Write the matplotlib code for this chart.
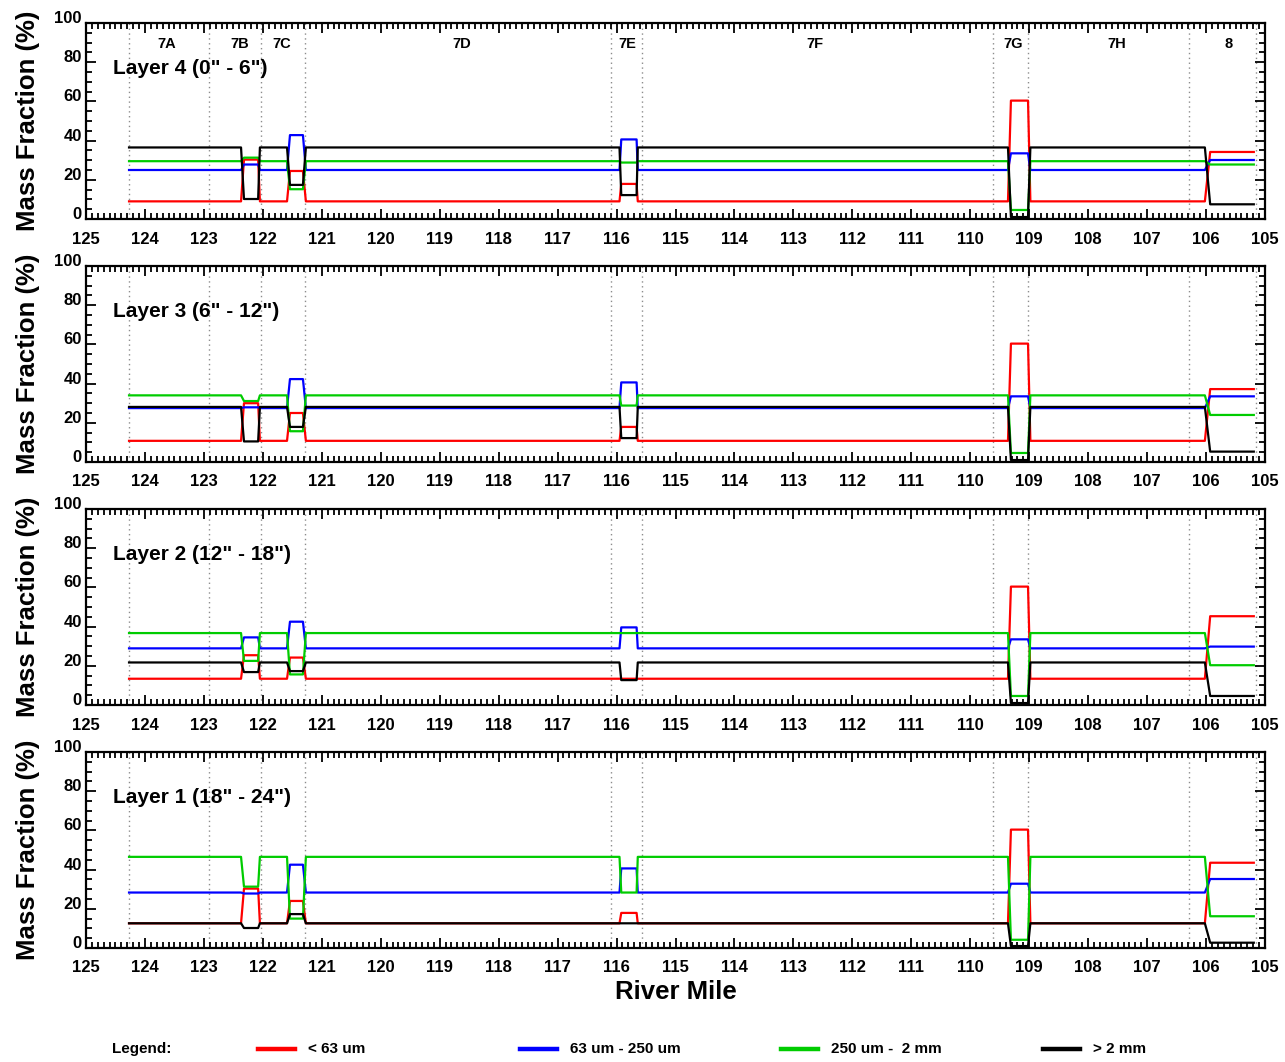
import matplotlib
matplotlib.use('Agg')
import matplotlib.pyplot as plt
import matplotlib.transforms as mtransforms
from matplotlib.lines import Line2D
from matplotlib.ticker import MultipleLocator

plt.rcParams['font.family'] = ['Liberation Sans', 'DejaVu Sans']
plt.rcParams['font.weight'] = 'bold'

# reach boundaries and labels (river mile)
reach_bounds = [124.27, 122.92, 122.03, 121.29, 116.10, 115.56, 109.61, 109.02, 106.29, 105.15]
reach_names = ['7A', '7B', '7C', '7D', '7E', '7F', '7G', '7H', '8']
reach_label_mile = [123.63, 122.39, 121.68, 118.63, 115.81, 112.63, 109.27, 107.51, 105.61]

# start / end mile of each constant-value stretch along the river
seg_start = [124.27, 122.32, 122.05, 121.54, 121.27, 115.92, 115.64, 109.31, 108.98, 105.93]
seg_end = [122.37, 122.08, 121.59, 121.32, 115.95, 115.66, 109.36, 109.02, 106.02, 105.19]

# mass fraction (%) per stretch, layer 4 (0" - 6")
l4_fines = [9.0, 30.3, 9.0, 24.5, 9.0, 17.9, 9.0, 60.4, 9.0, 34.2]
l4_fsand = [25.0, 27.8, 25.0, 42.8, 25.0, 40.6, 25.0, 33.5, 25.0, 30.1]
l4_csand = [29.5, 31.3, 29.5, 15.2, 29.5, 28.8, 29.5, 4.6, 29.5, 27.8]
l4_gravel = [36.5, 10.2, 36.5, 17.4, 36.5, 12.2, 36.5, 1.0, 36.5, 7.5]

# layer 3 (6" - 12")
l3_fines = [10.8, 30.0, 10.8, 25.0, 10.8, 17.9, 10.8, 60.4, 10.8, 37.2]
l3_fsand = [27.5, 27.9, 27.5, 42.3, 27.5, 40.6, 27.5, 33.5, 27.5, 33.5]
l3_csand = [34.0, 31.1, 34.0, 15.7, 34.0, 28.8, 34.0, 4.6, 34.0, 24.0]
l3_gravel = [28.1, 10.5, 28.1, 17.9, 28.1, 12.2, 28.1, 1.0, 28.1, 5.3]

# layer 2 (12" - 18")
l2_fines = [13.4, 25.4, 13.4, 24.2, 13.4, 13.4, 13.4, 60.4, 13.4, 45.3]
l2_fsand = [28.9, 34.5, 28.9, 42.5, 28.9, 39.6, 28.9, 33.5, 28.9, 29.8]
l2_csand = [36.7, 22.5, 36.7, 15.6, 36.7, 36.7, 36.7, 4.6, 36.7, 20.3]
l2_gravel = [21.7, 16.8, 21.7, 17.3, 21.7, 12.7, 21.7, 1.0, 21.7, 4.6]

# layer 1 (18" - 24")
l1_fines = [12.6, 30.3, 12.6, 24.0, 12.6, 17.9, 12.6, 60.4, 12.6, 43.5]
l1_fsand = [28.3, 27.8, 28.3, 42.5, 28.3, 40.6, 28.3, 32.8, 28.3, 35.2]
l1_csand = [46.5, 31.3, 46.5, 15.0, 46.5, 28.3, 46.5, 4.2, 46.5, 16.2]
l1_gravel = [12.6, 10.2, 12.6, 17.3, 12.6, 12.6, 12.6, 1.0, 12.6, 2.7]

layer_titles = ['Layer 4 (0" - 6")', 'Layer 3 (6" - 12")',
                'Layer 2 (12" - 18")', 'Layer 1 (18" - 24")']
layer_data = [
    [l4_fines, l4_fsand, l4_csand, l4_gravel],
    [l3_fines, l3_fsand, l3_csand, l3_gravel],
    [l2_fines, l2_fsand, l2_csand, l2_gravel],
    [l1_fines, l1_fsand, l1_csand, l1_gravel],
]
class_names = ['< 63 um', '63 um - 250 um', '250 um -  2 mm', '> 2 mm']
class_colors = ['#ff0000', '#0000ff', '#00cc00', '#000000']


def step_profile(values):
    # each stretch is flat; consecutive stretches are joined by straight ramps
    xs, ys = [], []
    for a, b, v in zip(seg_start, seg_end, values):
        xs += [a, b]
        ys += [v, v]
    return xs, ys


W, H = 1285, 1062
fig = plt.figure(figsize=(W / 100, H / 100), dpi=100)

ax_left = 86 / W
ax_width = 1179 / W
ax_height = 196 / H
panel_tops = [23, 266, 509, 752]

label_shift = mtransforms.ScaledTranslation(0, 6 / 100, fig.dpi_scale_trans)

for k in range(4):
    top = panel_tops[k]
    ax = fig.add_axes([ax_left, 1 - (top + 196) / H, ax_width, ax_height])

    for xb in reach_bounds:
        ax.axvline(xb, color='0.55', lw=1.0, ls=(0, (1, 2.5)), zorder=1)

    for vals, col in zip(layer_data[k], class_colors):
        xs, ys = step_profile(vals)
        ax.plot(xs, ys, color=col, lw=1.6, zorder=3)

    ax.set_xlim(125, 105)
    ax.set_ylim(0, 100)
    ax.xaxis.set_major_locator(MultipleLocator(1))
    ax.xaxis.set_minor_locator(MultipleLocator(0.1))
    ax.yaxis.set_major_locator(MultipleLocator(20))
    ax.yaxis.set_minor_locator(MultipleLocator(5))
    ax.tick_params(which='both', direction='in', top=True, right=True, width=1.3)
    ax.tick_params(which='major', length=7)
    ax.tick_params(which='minor', length=4)
    ax.tick_params(axis='x', which='major', pad=9, labelsize=12)
    ax.tick_params(axis='y', which='major', pad=3, labelsize=12)
    ax.set_xticklabels([str(int(t)) for t in ax.get_xticks()], fontweight='bold')
    for lab in ax.get_yticklabels():
        lab.set_fontweight('bold')
        lab.set_transform(lab.get_transform() + label_shift)
    for sp in ax.spines.values():
        sp.set_linewidth(1.6)

    ax.set_ylabel('Mass Fraction (%)', fontsize=18.5, fontweight='bold')
    ax.yaxis.set_label_coords(-0.039, 0.5)

    ax.text(124.55, 76.6, layer_titles[k], fontsize=15, fontweight='bold',
            ha='left', va='center')

    if k == 0:
        for name, xm in zip(reach_names, reach_label_mile):
            ax.text(xm, 89.5, name, fontsize=10.5, fontweight='bold',
                    ha='center', va='center')
    if k == 3:
        ax.set_xlabel('River Mile', fontsize=18.5, fontweight='bold', labelpad=3)

# legend row along the bottom
leg_y = 1 - 1049 / H
narrow = ['Liberation Sans Narrow', 'Liberation Sans', 'DejaVu Sans']
fig.text(112 / W, leg_y, 'Legend:', fontsize=11, fontweight='bold',
         family=narrow, ha='left', va='center')
for i, (name, col) in enumerate(zip(class_names, class_colors)):
    x0 = (258 + i * 261.7) / W
    fig.add_artist(Line2D([x0, x0 + 37 / W], [leg_y, leg_y], color=col, lw=3.2))
    fig.text(x0 + 50 / W, leg_y, name, fontsize=11, fontweight='bold',
             family=narrow, ha='left', va='center')

fig.savefig('out.png', dpi=100)
